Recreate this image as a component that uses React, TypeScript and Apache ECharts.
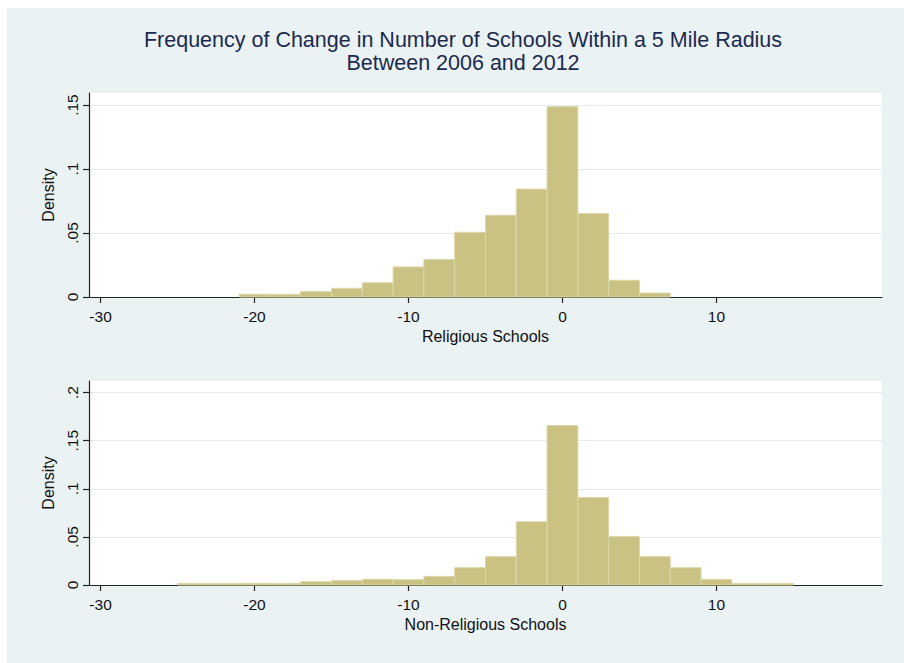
import React, { useEffect, useRef } from "react";
import * as echarts from "echarts";

// Histogram bins (width 2) and their densities
const binWidth = 2;
const religiousBinStart = -21;
const religiousDensity = [
  0.0021, 0.0021, 0.0042, 0.0068, 0.0111, 0.0235, 0.0293, 0.0506, 0.0639, 0.0843,
  0.1487, 0.0653, 0.0131, 0.0031,
];
const nonReligiousBinStart = -25;
const nonReligiousDensity = [
  0.0017, 0.0017, 0.0017, 0.0017, 0.0034, 0.0045, 0.006, 0.0055, 0.009, 0.018,
  0.0294, 0.0657, 0.1657, 0.091, 0.0505, 0.0294, 0.018, 0.0059, 0.0017, 0.0017,
];

const xTicks = [-30, -20, -10, 0, 10];
const religiousYTicks = [0, 0.05, 0.1, 0.15];
const nonReligiousYTicks = [0, 0.05, 0.1, 0.15, 0.2];

const titleLines = [
  "Frequency of Change in Number of Schools Within a 5 Mile Radius",
  "Between 2006 and 2012",
];

const BG = "#eaf2f3";
const BAR_FILL = "#c9c283";
const BAR_EDGE = "#dcd7aa";
const INK = "#111";
const FONT = "'Liberation Sans', Arial, Helvetica, sans-serif";

function toBins(start: number, dens: number[]) {
  return dens.map((d, i) => [start + i * binWidth, start + (i + 1) * binWidth, d]);
}

function fmtDensity(v: number) {
  if (Math.abs(v) < 1e-9) return "0";
  return String(parseFloat(v.toFixed(3))).replace(/^0\./, ".");
}

function renderBin(params: any, api: any) {
  const lo = api.value(0);
  const hi = api.value(1);
  const d = api.value(2);
  const p0 = api.coord([lo, d]);
  const p1 = api.coord([hi, 0]);
  return {
    type: "rect",
    shape: { x: p0[0], y: p0[1], width: p1[0] - p0[0], height: p1[1] - p0[1] },
    style: { fill: BAR_FILL, stroke: BAR_EDGE, lineWidth: 1 },
  };
}

function xAxisFor(gridIndex: number, name: string) {
  return {
    type: "value",
    gridIndex,
    min: -30.75,
    max: 20.75,
    name,
    nameLocation: "middle",
    nameGap: 31,
    nameTextStyle: { color: INK, fontSize: 16, fontFamily: FONT },
    axisLine: { show: true, onZero: false, lineStyle: { color: "#222", width: 1.2 } },
    axisTick: { show: true, length: 6, customValues: xTicks, lineStyle: { color: "#222", width: 1.2 } },
    axisLabel: {
      customValues: xTicks,
      color: INK,
      fontSize: 15.5,
      fontFamily: FONT,
      margin: 11,
    },
    splitLine: { show: false },
  };
}

function yAxisFor(gridIndex: number, max: number, ticks: number[]) {
  return {
    type: "value",
    gridIndex,
    min: 0,
    max,
    name: "Density",
    nameLocation: "middle",
    nameGap: 31,
    nameRotate: 90,
    nameTextStyle: { color: INK, fontSize: 16, fontFamily: FONT },
    axisLine: { show: true, onZero: false, lineStyle: { color: "#222", width: 1.2 } },
    axisTick: { show: true, length: 6, customValues: ticks, lineStyle: { color: "#222", width: 1.2 } },
    axisLabel: {
      customValues: ticks,
      rotate: 90,
      color: INK,
      fontSize: 15.5,
      fontFamily: FONT,
      margin: 9,
      formatter: (v: number) => fmtDensity(v),
    },
    splitLine: { show: true, lineStyle: { color: "#e3ecee", width: 1.2 } },
  };
}

export default function App() {
  const ref = useRef<HTMLDivElement>(null);

  useEffect(() => {
    if (!ref.current) return;
    const chart = echarts.init(ref.current, undefined, { renderer: "svg" });
    chart.setOption({
      animation: false,
      backgroundColor: BG,
      title: {
        text: titleLines.join("\n"),
        left: 451,
        top: 15,
        textAlign: "center",
        textStyle: {
          color: "#1c2a4e",
          fontSize: 21.5,
          fontWeight: "normal",
          fontFamily: FONT,
          lineHeight: 23,
        },
      },
      grid: [
        { left: 82, top: 85, width: 793, height: 204, show: true, backgroundColor: "#fff", borderWidth: 0 },
        { left: 82, top: 373, width: 793, height: 204, show: true, backgroundColor: "#fff", borderWidth: 0 },
      ],
      xAxis: [xAxisFor(0, "Religious Schools"), xAxisFor(1, "Non-Religious Schools")],
      yAxis: [yAxisFor(0, 0.1594, religiousYTicks), yAxisFor(1, 0.212, nonReligiousYTicks)],
      series: [
        {
          type: "custom",
          xAxisIndex: 0,
          yAxisIndex: 0,
          renderItem: renderBin,
          encode: { x: [0, 1], y: 2 },
          data: toBins(religiousBinStart, religiousDensity),
        },
        {
          type: "custom",
          xAxisIndex: 1,
          yAxisIndex: 1,
          renderItem: renderBin,
          encode: { x: [0, 1], y: 2 },
          data: toBins(nonReligiousBinStart, nonReligiousDensity),
        },
      ],
    });
    return () => chart.dispose();
  }, []);

  return (
    <div
      ref={ref}
      style={{ position: "absolute", left: 7, top: 8, width: 897, height: 655 }}
    />
  );
}
